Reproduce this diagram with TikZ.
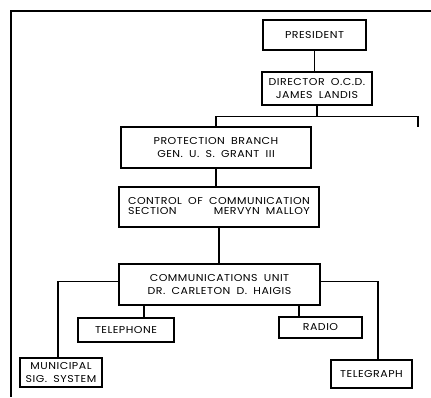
\documentclass[tikz,border=0pt]{standalone}
\usepackage{fontspec}
\setmainfont{Poppins}[LetterSpace=5, FakeStretch=1.1, WordSpace=1.8]
\usepackage{tikz}
\usetikzlibrary{positioning, calc}

\tikzset{
	unit/.style={draw, line width=1.2pt, align=center, inner sep=1pt, font=\fontsize{10}{13.5}\selectfont},
	link/.style={line width=1.2pt},
}

\begin{document}
\begin{tikzpicture}[x=1pt, y=-1pt]
		\useasboundingbox (0,0) rectangle (431,397);
		\draw[line width=1.6pt] (431,11) -- (11,11) -- (11,397);

		\node[unit, minimum width=103pt, minimum height=30pt] (president) at (314.5,35) {PRESIDENT};
		\node[unit, minimum width=110pt, minimum height=33pt] (director) at (317,88.5) {DIRECTOR O.C.D.\\JAMES LANDIS};
		\node[unit, minimum width=190pt, minimum height=41pt] (protection) at (216,147.5) {PROTECTION BRANCH\\GEN. U. S. GRANT III};
		\node[unit, minimum width=200pt, minimum height=40pt] (control) at (219,207) {\begin{tabular}{@{}l@{}}CONTROL OF COMMUNICATION\\[-3pt]SECTION\hfill MERVYN MALLOY\end{tabular}};
		\node[unit, minimum width=201pt, minimum height=41pt] (cu) at (219.5,284.5) {COMMUNICATIONS UNIT\\DR. CARLETON D. HAIGIS};
		\node[unit, minimum width=96pt, minimum height=24pt] (telephone) at (126,330) {TELEPHONE};
		\node[unit, minimum width=83pt, minimum height=21pt] (radio) at (320.5,327.5) {RADIO};
		\node[unit, minimum width=82pt, minimum height=29pt] (municipal) at (61,372.5) {MUNICIPAL\\SIG. SYSTEM};
		\node[unit, minimum width=81pt, minimum height=28pt] (telegraph) at (371.5,374) {TELEGRAPH};

		\coordinate (stub) at (418,127);
		\draw[link] (president) -- (president |- director.north);
		\draw[link] (director.south) -- ++(0,11) coordinate (split);
		\draw[link] (protection.north) |- (stub |- split) -- (stub);
		\draw[link] (protection.south) -- (protection.south |- control.north);
		\draw[link] (control.south) -- (control.south |- cu.north);
		\draw[link] ([yshift=3pt]cu.west) -| ([xshift=-3pt]municipal.north);
		\draw[link] ([yshift=3pt]cu.east) -| ([xshift=6.5pt]telegraph.north);
		\draw[link] ([xshift=18pt]telephone.north) -- ([xshift=18pt]telephone.north |- cu.south);
		\draw[link] ([xshift=-21.5pt]radio.north) -- ([xshift=-21.5pt]radio.north |- cu.south);
	\end{tikzpicture}
\end{document}
